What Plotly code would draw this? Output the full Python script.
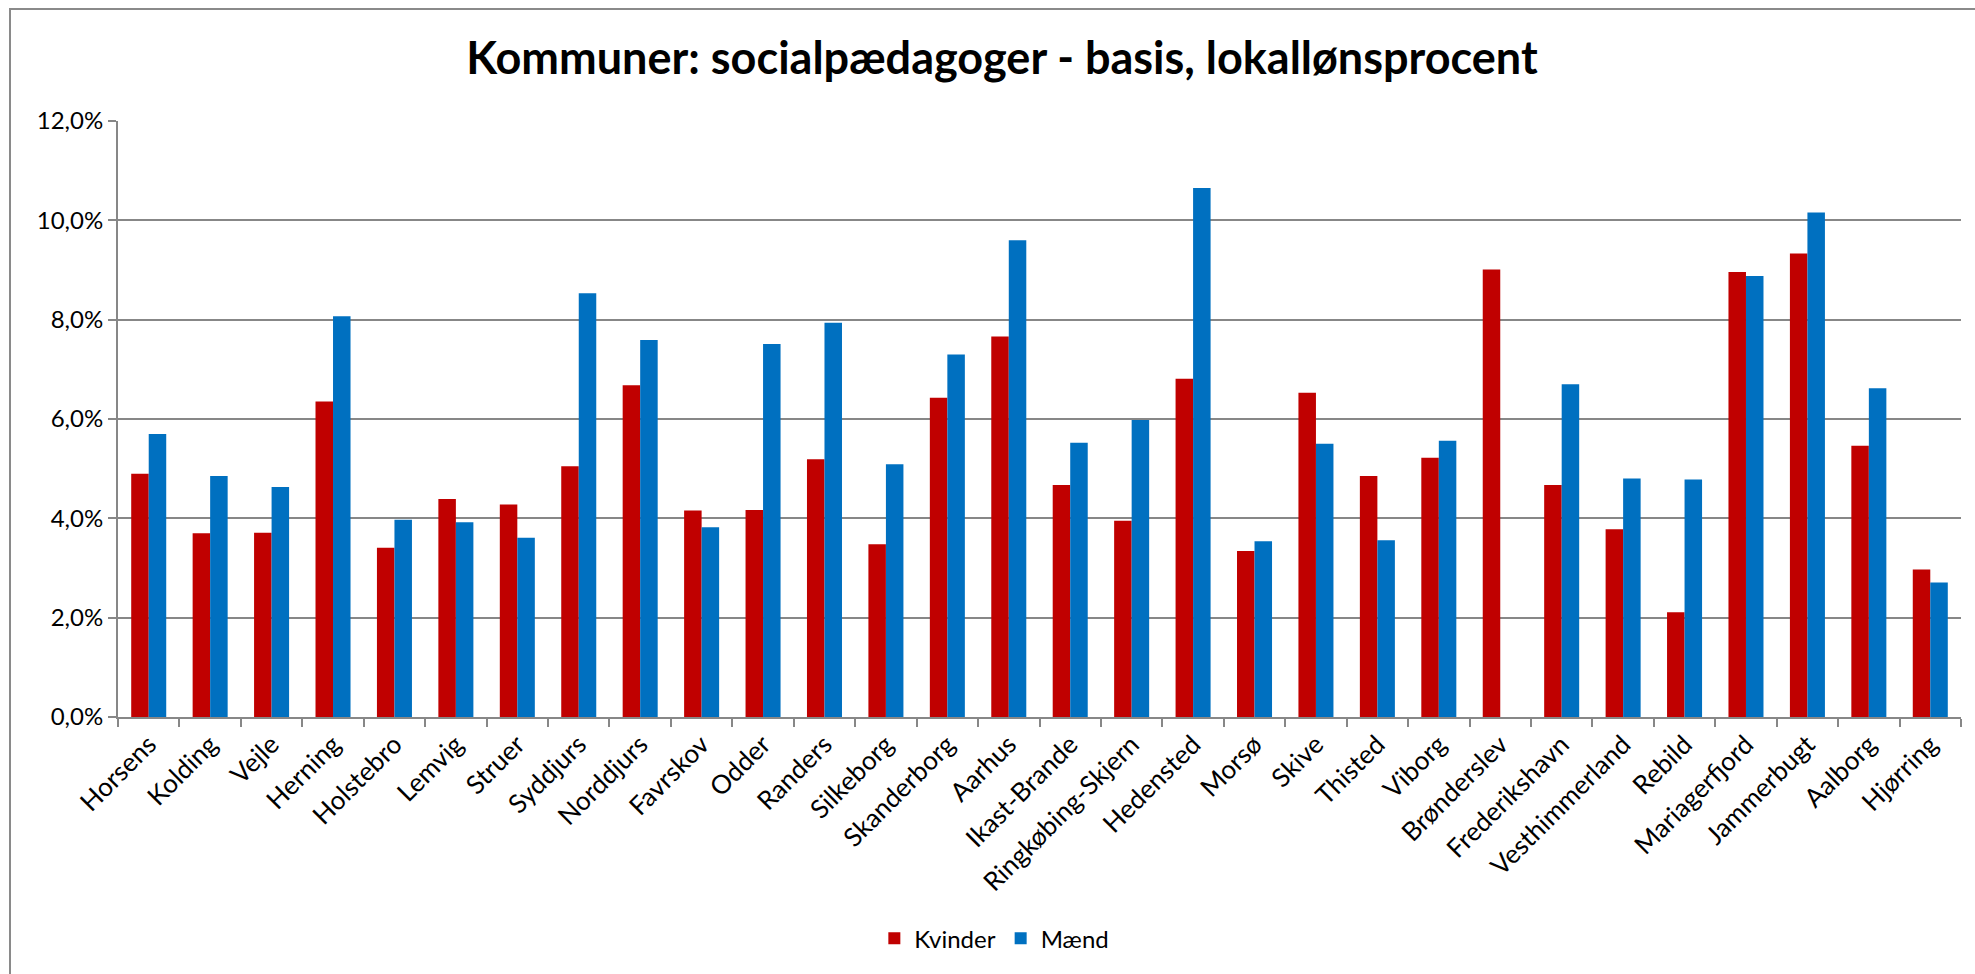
import numpy as np
import plotly.graph_objects as go

kommuner = ["Horsens", "Kolding", "Vejle", "Herning", "Holstebro", "Lemvig", "Struer",
            "Syddjurs", "Norddjurs", "Favrskov", "Odder", "Randers", "Silkeborg",
            "Skanderborg", "Aarhus", "Ikast-Brande", "Ringkøbing-Skjern", "Hedensted",
            "Morsø", "Skive", "Thisted", "Viborg", "Brønderslev", "Frederikshavn",
            "Vesthimmerland", "Rebild", "Mariagerfjord", "Jammerbugt", "Aalborg", "Hjørring"]

kvinder = [4.90, 3.70, 3.71, 6.35, 3.41, 4.39, 4.28, 5.05, 6.68, 4.16, 4.17, 5.19, 3.48,
           6.43, 7.66, 4.67, 3.95, 6.81, 3.34, 6.53, 4.85, 5.22, 9.01, 4.67, 3.78, 2.11,
           8.96, 9.33, 5.46, 2.97]

maend = [5.70, 4.85, 4.63, 8.07, 3.97, 3.92, 3.61, 8.53, 7.59, 3.82, 7.51, 7.94, 5.09,
         7.30, 9.60, 5.52, 5.98, 10.65, 3.54, 5.50, 3.56, 5.56, None, 6.70, 4.80, 4.78,
         8.88, 10.16, 6.62, 2.71]

y_ticks = [0, 2, 4, 6, 8, 10, 12]

FONT = "Lato"
GRID = "#878787"

def frac(vals):
    return [None if v is None else v / 100 for v in vals]

fig = go.Figure()
fig.add_trace(go.Bar(name="Kvinder", x=kommuner, y=frac(kvinder),
                     marker=dict(color="#C00000", line=dict(width=0))))
fig.add_trace(go.Bar(name="Mænd", x=kommuner, y=frac(maend),
                     marker=dict(color="#0070C0", line=dict(width=0))))

fig.update_layout(
    width=1975, height=974,
    margin=dict(l=118, r=14, t=121, b=257),
    paper_bgcolor="white", plot_bgcolor="white",
    separators=", ",
    font=dict(family=FONT, size=24, color="black"),
    title=dict(text="<b>Kommuner: socialpædagoger - basis, lokallønsprocent</b>",
               x=1002 / 1975, xanchor="center", y=1 - 58 / 974, yanchor="middle",
               font=dict(family=FONT, size=45, color="black")),
    barmode="group", bargap=0.43, bargroupgap=0,
    legend=dict(orientation="h", x=0.4755, xanchor="center", y=-0.372, yanchor="middle",
                font=dict(family=FONT, size=24), itemwidth=30, traceorder="normal"),
    xaxis=dict(type="category", tickangle=-45, tickson="boundaries",
               ticks="outside", ticklen=8, tickwidth=2, tickcolor=GRID,
               showline=True, linecolor=GRID, linewidth=2,
               tickfont=dict(family=FONT, size=26)),
    yaxis=dict(range=[0, 0.12], tickvals=[v / 100 for v in y_ticks], tickformat=".1%",
               showgrid=True, gridcolor=GRID, gridwidth=2,
               ticks="outside", ticklen=8, tickwidth=2, tickcolor=GRID,
               showline=True, linecolor=GRID, linewidth=2, zeroline=False,
               tickfont=dict(family=FONT, size=24)),
    shapes=[dict(type="rect", xref="paper", yref="paper",
                 x0=-0.0586, y0=1.188, x1=1.05, y1=-0.6,
                 line=dict(color="#8a8a8a", width=2), fillcolor="rgba(0,0,0,0)",
                 layer="below")],
)

fig.write_html(
    "out.html",
    config={"displayModeBar": False},
    post_script="document.body.style.margin='0';document.body.style.overflow='hidden';",
)
